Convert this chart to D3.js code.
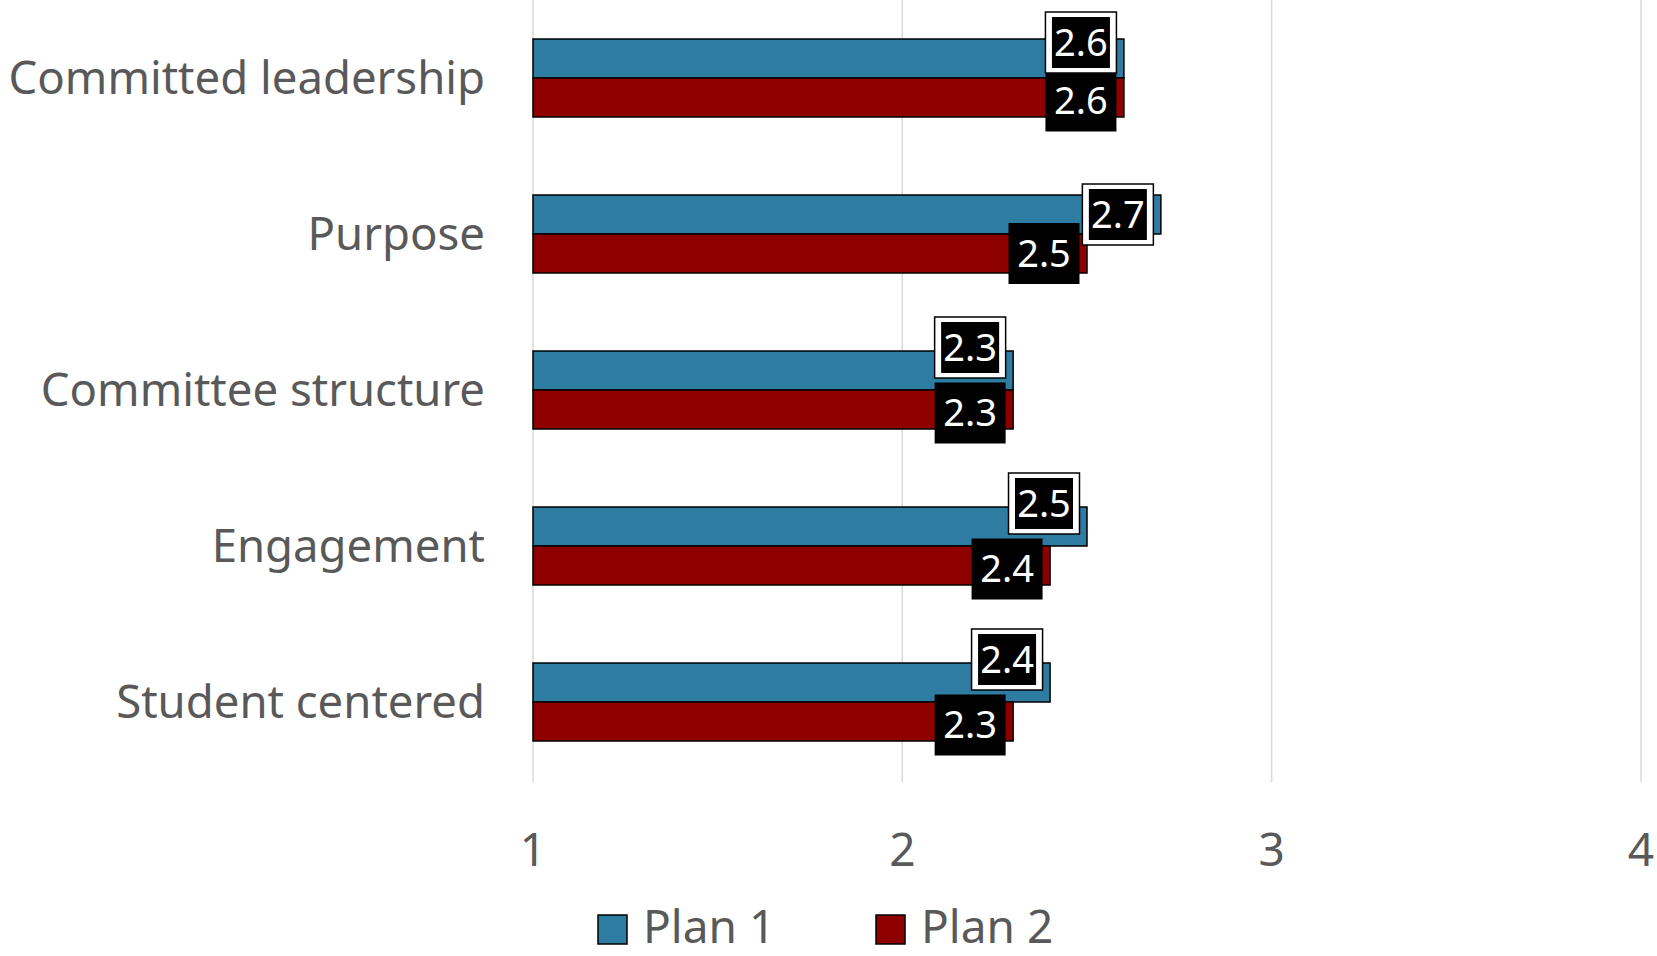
<!DOCTYPE html>
<html>
<head>
<meta charset="utf-8">
<script src="https://cdn.jsdelivr.net/npm/d3@7"></script>
<style>
  html, body { margin:0; padding:0; background:#fff; }
  svg { display:block; }
  text { font-family: "Noto Sans", "Open Sans", sans-serif; }
</style>
</head>
<body>
<svg id="chart" width="1657" height="956"></svg>
<script>
// chart data
const categories = ['Committed leadership', 'Purpose', 'Committee structure', 'Engagement', 'Student centered'];
const seriesNames = ['Plan 1', 'Plan 2'];
const plan1 = [2.6, 2.7, 2.3, 2.5, 2.4];
const plan2 = [2.6, 2.5, 2.3, 2.4, 2.3];
const xTicks = [1, 2, 3, 4];
const colors = ['#2E7CA1', '#8E0000'];

const W = 1657, H = 956;
const svg = d3.select('#chart');

const x = d3.scaleLinear().domain([1, 4]).range([533, 1641]);
const y = d3.scaleBand().domain(categories).range([0, 780]).paddingInner(0.5).paddingOuter(0.25);
const sub = d3.scaleBand().domain(seriesNames).range([0, y.bandwidth()]);

const rows = categories.map((c, i) => ({ cat: c, vals: [plan1[i], plan2[i]] }));

// gridlines
svg.append('g').selectAll('line').data(xTicks).join('line')
  .attr('x1', d => x(d)).attr('x2', d => x(d))
  .attr('y1', 0).attr('y2', 782)
  .attr('stroke', '#D9D9D9').attr('stroke-width', 1.5);

// bars
const gBars = svg.append('g');
rows.forEach(r => {
  r.vals.forEach((v, s) => {
    gBars.append('rect')
      .attr('x', x(1))
      .attr('y', y(r.cat) + sub(seriesNames[s]))
      .attr('width', x(v) - x(1))
      .attr('height', sub.bandwidth())
      .attr('fill', colors[s])
      .attr('stroke', '#000').attr('stroke-width', 1.5);
  });
});

// category labels
svg.append('g').selectAll('text').data(categories).join('text')
  .attr('x', 485)
  .attr('y', d => y(d) + y.bandwidth() / 2 + 16)
  .attr('text-anchor', 'end')
  .attr('fill', '#595959')
  .attr('font-size', 45.5)
  .text(d => d);

// x tick labels
svg.append('g').selectAll('text').data(xTicks).join('text')
  .attr('x', d => x(d))
  .attr('y', 866)
  .attr('text-anchor', 'middle')
  .attr('fill', '#595959')
  .attr('font-size', 46)
  .text(d => d);

// data labels (boxes), shift plan 1 up when boxes collide
const BW = 71, BH = 61, INSET = 43;
const gLab = svg.append('g');
const labelPos = rows.map(r => {
  const cx = r.vals.map(v => x(v) - INSET);
  const cy = seriesNames.map(s => y(r.cat) + sub(s) + sub.bandwidth() / 2);
  if (Math.abs(cx[0] - cx[1]) < BW) {
    cy[0] = Math.max(cy[0] - 23, 12 + BH / 2);
    cy[1] += 3.5;
  }
  return { cx, cy, vals: r.vals };
});

// plan 2 labels first (plain black boxes)
labelPos.forEach(p => {
  const cx = p.cx[1], cy = p.cy[1];
  gLab.append('rect').attr('x', cx - BW / 2).attr('y', cy - BH / 2)
    .attr('width', BW).attr('height', BH).attr('fill', '#000');
  gLab.append('text').attr('x', cx).attr('y', cy + 13)
    .attr('text-anchor', 'middle').attr('fill', '#fff').attr('font-size', 38)
    .text(d3.format('.1f')(p.vals[1]));
});
// plan 1 labels on top (white framed boxes)
labelPos.forEach(p => {
  const cx = p.cx[0], cy = p.cy[0];
  gLab.append('rect').attr('x', cx - BW / 2).attr('y', cy - BH / 2)
    .attr('width', BW).attr('height', BH)
    .attr('fill', '#fff').attr('stroke', '#000').attr('stroke-width', 1.5);
  gLab.append('rect').attr('x', cx - BW / 2 + 6.5).attr('y', cy - BH / 2 + 5)
    .attr('width', BW - 13).attr('height', BH - 10).attr('fill', '#000');
  gLab.append('text').attr('x', cx).attr('y', cy + 13)
    .attr('text-anchor', 'middle').attr('fill', '#fff').attr('font-size', 38)
    .text(d3.format('.1f')(p.vals[0]));
});

// legend
const legX = [598, 876];
const gLeg = svg.append('g');
seriesNames.forEach((s, i) => {
  gLeg.append('rect').attr('x', legX[i]).attr('y', 915).attr('width', 29).attr('height', 29)
    .attr('fill', colors[i]).attr('stroke', '#000').attr('stroke-width', 1.5);
  gLeg.append('text').attr('x', legX[i] + 45).attr('y', 943)
    .attr('fill', '#595959').attr('font-size', 46).text(s);
});
</script>
</body>
</html>
